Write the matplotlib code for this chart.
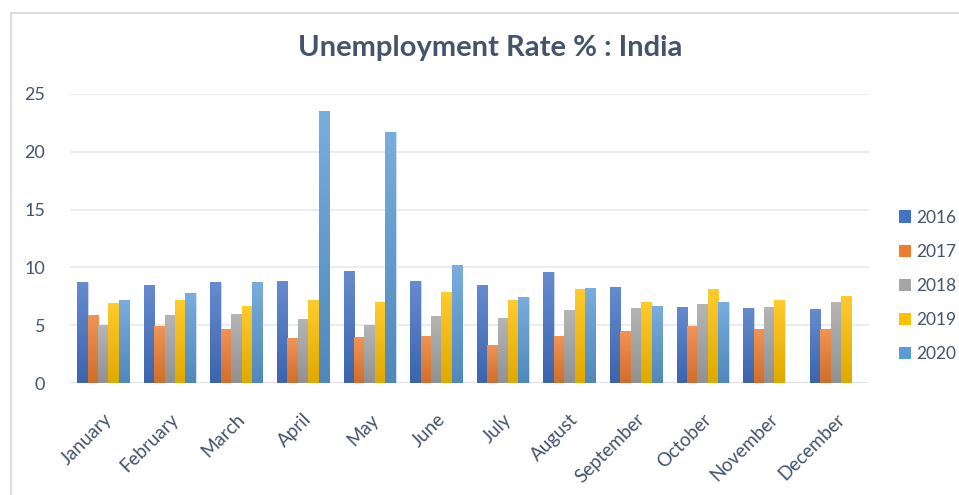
import numpy as np
import matplotlib.pyplot as plt
import matplotlib.colors as mcolors
from matplotlib.patches import Patch
from matplotlib.lines import Line2D

plt.rcParams['font.family'] = ['Lato', 'DejaVu Sans']

months = ['January', 'February', 'March', 'April', 'May', 'June', 'July',
          'August', 'September', 'October', 'November', 'December']
years = ['2016', '2017', '2018', '2019', '2020']

rate_2016 = [8.7, 8.5, 8.7, 8.8, 9.7, 8.8, 8.5, 9.6, 8.3, 6.6, 6.5, 6.4]
rate_2017 = [5.9, 4.9, 4.7, 3.85, 3.95, 4.1, 3.3, 4.1, 4.5, 4.9, 4.7, 4.7]
rate_2018 = [5.0, 5.9, 5.95, 5.55, 5.0, 5.8, 5.6, 6.3, 6.5, 6.8, 6.6, 7.0]
rate_2019 = [6.9, 7.15, 6.65, 7.2, 7.0, 7.9, 7.2, 8.15, 7.05, 8.1, 7.15, 7.55]
rate_2020 = [7.15, 7.75, 8.75, 23.5, 21.7, 10.2, 7.4, 8.2, 6.65, 7.0, None, None]

series = [rate_2016, rate_2017, rate_2018, rate_2019, rate_2020]
colors = ['#4472C4', '#ED7D31', '#A5A5A5', '#FFC000', '#5B9BD5']
text_col = '#44546A'

fig = plt.figure(figsize=(9.59, 4.95), dpi=100)
ax = fig.add_axes([70/959, 112/495, 799/959, 289/495])

# chart frame (left + top edges visible)
fig.add_artist(Line2D([11/959, 11/959], [0, 1 - 13/495], color='#D9DEE6', lw=1.5))
fig.add_artist(Line2D([11/959, 1], [1 - 13/495, 1 - 13/495], color='#D9DEE6', lw=1.5))

x = np.arange(len(months))
w = 0.156
for i, (vals, c) in enumerate(zip(series, colors)):
    pos = x + (i - 2) * w
    v = np.array([np.nan if a is None else a for a in vals], dtype=float)
    bars = ax.bar(pos, np.nan_to_num(v), w, color=c, edgecolor=mcolors.to_rgba('white', 0.5),
                  linewidth=0.6, zorder=2)
    # vertical gradient: lighter on top, darker at bottom
    base = np.array(mcolors.to_rgb(c))
    top = base + (1 - base) * 0.18
    bot = base * 0.88
    grad = np.linspace(0, 1, 64)[:, None, None]
    img = top * (1 - grad) + bot * grad
    for b, val in zip(bars, v):
        if np.isnan(val):
            b.set_visible(False)
            continue
        im = ax.imshow(img, extent=[b.get_x(), b.get_x() + w, 0, val],
                       aspect='auto', zorder=2.5, interpolation='bilinear')
        im.set_clip_path(b)

ax.set_xlim(-0.5, 11.5)
ax.set_ylim(0, 25)
ax.set_yticks([0, 5, 10, 15, 20, 25])
ax.grid(axis='y', color='#E8E9EE', lw=1.2, zorder=0)
ax.set_axisbelow(True)
for s in ax.spines.values():
    s.set_visible(False)
ax.axhline(0, color='#E0E2E8', lw=1.2, zorder=1)
ax.tick_params(axis='both', length=0, colors=text_col)
ax.tick_params(axis='y', pad=18, labelsize=13)
ax.set_xticks(x)
ax.set_xticklabels(months, rotation=45, ha='right', rotation_mode='anchor')
ax.tick_params(axis='x', pad=20, labelsize=13.5)

fig.text(0.511, 1 - 48/495, 'Unemployment Rate % : India', ha='center', va='center',
         fontsize=21, fontweight='bold', color=text_col)

handles = [Patch(facecolor=c, edgecolor='none') for c in colors]
fig.legend(handles, years, loc='center left', bbox_to_anchor=(899/959, 1 - 286/495),
           frameon=False, fontsize=12.5, labelcolor=text_col, handlelength=0.7,
           handleheight=0.7, handletextpad=0.3, labelspacing=1.05, borderpad=0,
           borderaxespad=0)

fig.savefig('out.png', dpi=100)
